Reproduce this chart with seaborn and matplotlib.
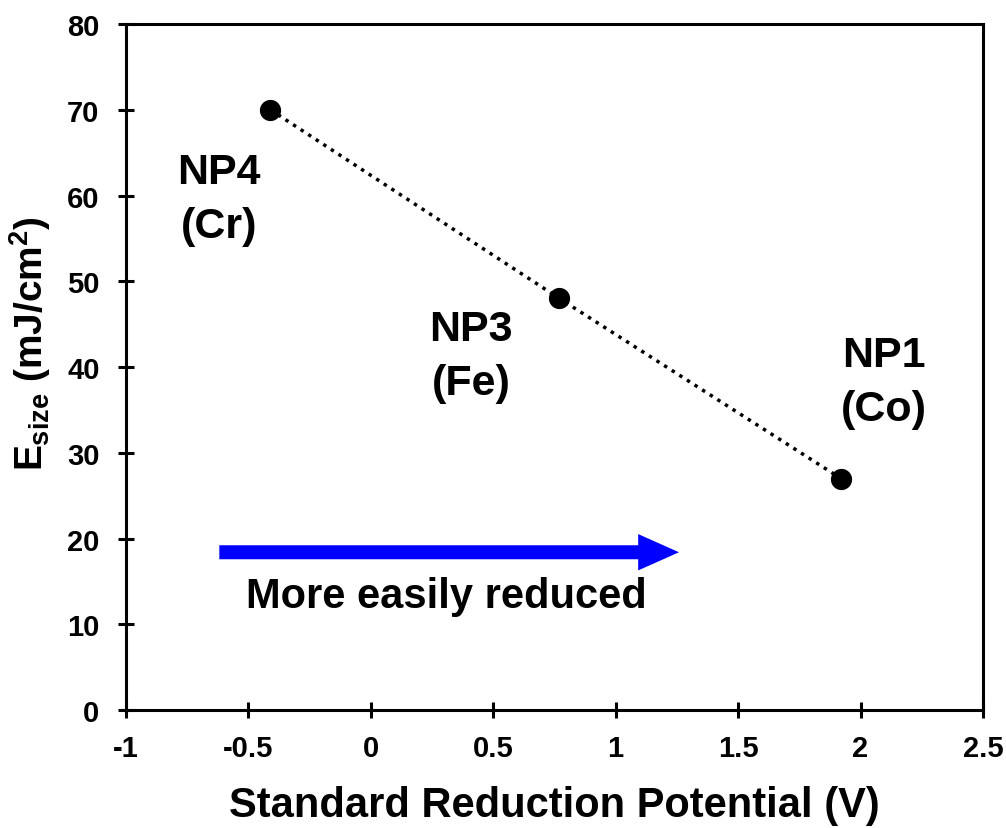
import matplotlib
matplotlib.use("Agg")
import matplotlib.pyplot as plt
import seaborn as sns
import pandas as pd

potential = [-0.41, 0.77, 1.92]
e_size = [70, 48, 27]
labels = ["NP4\n(Cr)", "NP3\n(Fe)", "NP1\n(Co)"]
label_pos_x = [-0.62, 0.41, 2.095]
label_pos_y = [59.6, 41.3, 38.3]
x_ticks = [-1, -0.5, 0, 0.5, 1, 1.5, 2, 2.5]
x_tick_labels = ["-1", "-0.5", "0", "0.5", "1", "1.5", "2", "2.5"]
y_ticks = [0, 10, 20, 30, 40, 50, 60, 70, 80]

sns.set_style("ticks")
plt.rcParams['font.family'] = ['Liberation Sans', 'DejaVu Sans']
plt.rcParams['font.weight'] = 'bold'
plt.rcParams['text.color'] = 'black'
plt.rcParams['axes.labelcolor'] = 'black'
plt.rcParams['xtick.color'] = 'black'
plt.rcParams['ytick.color'] = 'black'
plt.rcParams['mathtext.fontset'] = 'custom'
plt.rcParams['mathtext.rm'] = 'Liberation Sans:bold'
plt.rcParams['mathtext.it'] = 'Liberation Sans:bold'
plt.rcParams['mathtext.bf'] = 'Liberation Sans:bold'

df = pd.DataFrame({"x": potential, "y": e_size})

fig = plt.figure(figsize=(10.06, 8.29), dpi=100)
ax = fig.add_axes([0.1252, 0.1423, 0.9771 - 0.1252, 0.9698 - 0.1423])

sns.lineplot(data=df, x="x", y="y", ax=ax, color="black", linestyle=(0, (1, 1.6)), linewidth=2.5)
sns.scatterplot(data=df, x="x", y="y", ax=ax, color="black", s=200, edgecolor="black", zorder=5)

ax.set_xlim(-1, 2.5)
ax.set_ylim(0, 80)
ax.set_xticks(x_ticks)
ax.set_xticklabels(x_tick_labels)
ax.set_yticks(y_ticks)
for s in ax.spines.values():
    s.set_linewidth(2.2)
    s.set_color("black")
ax.tick_params(axis='both', direction='inout', length=12, width=2.2, labelsize=21,
               colors='black', labelcolor='black')
ax.tick_params(axis='x', pad=11)
ax.tick_params(axis='y', pad=13)
for t in ax.get_xticklabels() + ax.get_yticklabels():
    t.set_fontweight('bold')

ax.set_xlabel("Standard Reduction Potential (V)", fontsize=30, fontweight='bold', labelpad=17, color='black')
ax.set_ylabel(r"$E_{size}$ (mJ/cm$^{2}$)", fontsize=28, fontweight='bold', color='black')
ax.yaxis.set_label_coords(-0.085, 0.535)

for lx, ly, lab in zip(label_pos_x, label_pos_y, labels):
    ax.text(lx, ly, lab, ha='center', va='center', fontsize=31, fontweight='bold',
            linespacing=1.45, color='black')

ax.annotate("", xy=(1.27, 18.4), xytext=(-0.63, 18.4),
            arrowprops=dict(arrowstyle="simple,head_width=1.87,head_length=2.1,tail_width=0.72",
                            color="#0000ff", lw=0, mutation_scale=14))
ax.text(0.31, 13.3, "More easily reduced", ha='center', va='center', fontsize=30,
        fontweight='bold', color='black')

fig.savefig("out.png", dpi=100)
